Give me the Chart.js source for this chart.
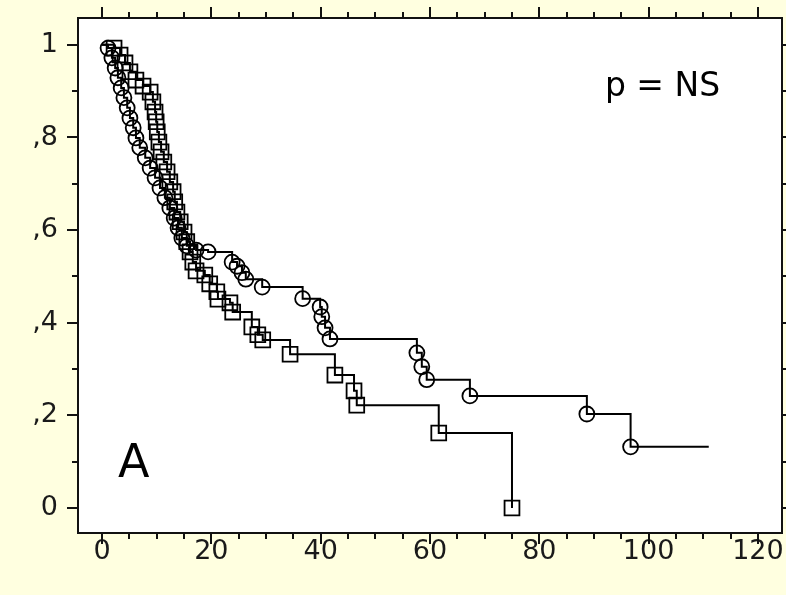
<!DOCTYPE html>
<html>
<head>
<meta charset="utf-8">
<script src="https://cdn.jsdelivr.net/npm/chart.js@4.4.1/dist/chart.umd.min.js"></script>
<style>
  html, body { margin: 0; padding: 0; background: #ffffe0; overflow: hidden; }
  canvas { display: block; }
</style>
</head>
<body>
<canvas id="km" width="786" height="595"></canvas>
<script>
// group drawn with circles
const circleTimes = [0, 1.1, 1.8, 2.4, 2.9, 3.5, 4.0, 4.6, 5.1, 5.7, 6.2, 6.9, 7.9, 8.8, 9.7,
  10.6, 11.5, 12.4, 13.2, 13.9, 14.6, 15.5, 17.2, 19.4, 23.8, 24.7, 25.6, 26.3, 29.3, 36.7,
  39.9, 40.2, 40.8, 41.7, 57.6, 58.5, 59.4, 67.3, 88.7, 96.7, 111];
const circleSurv = [1, 0.993, 0.972, 0.950, 0.929, 0.907, 0.886, 0.864, 0.842, 0.821, 0.799, 0.778, 0.756, 0.734, 0.713,
  0.691, 0.670, 0.648, 0.626, 0.605, 0.583, 0.566, 0.557, 0.553, 0.531, 0.522, 0.508, 0.494, 0.477, 0.452,
  0.434, 0.413, 0.389, 0.365, 0.335, 0.305, 0.277, 0.242, 0.203, 0.132, 0.132];

// group drawn with squares
const squareTimes = [0, 2.2, 3.3, 4.2, 5.1, 6.2, 7.5, 8.8, 9.3, 9.7, 9.9, 10.1, 10.4, 10.8, 11.3,
  11.9, 12.4, 13.0, 13.3, 13.7, 14.3, 15.0, 15.5, 16.1, 16.6, 17.2, 18.8, 19.7, 21.0, 21.2,
  23.4, 23.9, 27.4, 28.5, 29.4, 34.4, 42.6, 46.1, 46.6, 61.6, 75.0];
const squareSurv = [1, 0.993, 0.978, 0.961, 0.942, 0.924, 0.911, 0.898, 0.877, 0.855, 0.834, 0.812, 0.790, 0.769, 0.747,
  0.726, 0.704, 0.683, 0.661, 0.639, 0.618, 0.596, 0.575, 0.553, 0.531, 0.512, 0.503, 0.484, 0.467, 0.451,
  0.443, 0.423, 0.391, 0.374, 0.363, 0.332, 0.287, 0.253, 0.222, 0.162, 0];

const xTicks = [0, 20, 40, 60, 80, 100, 120];
const xMinorTicks = [5, 10, 15, 25, 30, 35, 45, 50, 55, 65, 70, 75, 85, 90, 95, 105, 110, 115];
const yTicks = [0, 0.2, 0.4, 0.6, 0.8, 1];
const yTickLabels = ["0", ",2", ",4", ",6", ",8", "1"];
const yMinorTicks = [0.1, 0.3, 0.5, 0.7, 0.9];

const labelFont = { family: "'DejaVu Sans', sans-serif", size: 27 };

function toPoints(times, surv) {
  return times.map((t, i) => ({ x: t, y: surv[i] }));
}

// white plot area, frame, outside ticks on all four sides, and the two labels
const framePlugin = {
  id: 'frame',
  beforeDraw(chart) {
    const a = chart.chartArea, c = chart.ctx;
    c.save();
    c.fillStyle = '#ffffe0';
    c.fillRect(0, 0, chart.width, chart.height);
    c.fillStyle = '#ffffff';
    c.fillRect(a.left, a.top, a.right - a.left, a.bottom - a.top);
    c.restore();
  },
  afterDraw(chart) {
    const a = chart.chartArea, c = chart.ctx;
    const xs = chart.scales.x, ys = chart.scales.y;
    c.save();
    c.strokeStyle = '#111';
    c.lineWidth = 2;
    c.strokeRect(a.left, a.top, a.right - a.left, a.bottom - a.top);

    c.beginPath();
    const xt = (v, len) => {
      const px = Math.round(xs.getPixelForValue(v));
      c.moveTo(px, a.bottom); c.lineTo(px, a.bottom + len);
      c.moveTo(px, a.top); c.lineTo(px, a.top - len);
    };
    const yt = (v, len) => {
      const py = Math.round(ys.getPixelForValue(v));
      c.moveTo(a.left, py); c.lineTo(a.left - len, py);
      c.moveTo(a.right, py); c.lineTo(a.right + len, py);
    };
    xTicks.forEach(v => xt(v, 11));
    xMinorTicks.forEach(v => xt(v, 6));
    yTicks.forEach(v => yt(v, 11));
    yMinorTicks.forEach(v => yt(v, 6));
    c.stroke();

    c.fillStyle = '#000';
    c.textBaseline = 'alphabetic';
    c.textAlign = 'left';
    c.font = "33px 'DejaVu Sans', sans-serif";
    c.fillText('p = NS', xs.getPixelForValue(92.0), ys.getPixelForValue(0.89));
    c.font = "46px 'DejaVu Sans', sans-serif";
    c.fillText('A', xs.getPixelForValue(2.9), ys.getPixelForValue(0.067));
    c.restore();
  }
};

new Chart(document.getElementById('km'), {
  type: 'scatter',
  data: {
    datasets: [
      {
        label: 'circles',
        data: toPoints(circleTimes, circleSurv),
        showLine: true,
        stepped: 'before',
        borderColor: '#000',
        borderWidth: 2,
        pointStyle: 'circle',
        pointRadius: ctx => (ctx.dataIndex === 0 || ctx.dataIndex === circleTimes.length - 1) ? 0 : 7.5,
        pointBorderColor: '#000',
        pointBackgroundColor: 'rgba(0,0,0,0)',
        pointBorderWidth: 1.8
      },
      {
        label: 'squares',
        data: toPoints(squareTimes, squareSurv),
        showLine: true,
        stepped: 'before',
        borderColor: '#000',
        borderWidth: 2,
        pointStyle: 'rect',
        pointRadius: ctx => ctx.dataIndex === 0 ? 0 : 10.5,
        pointBorderColor: '#000',
        pointBackgroundColor: 'rgba(0,0,0,0)',
        pointBorderWidth: 1.8
      }
    ]
  },
  options: {
    responsive: false,
    animation: false,
    events: [],
    layout: { autoPadding: false, padding: { top: 18, right: 4, left: 0, bottom: 0 } },
    plugins: { legend: { display: false }, tooltip: { enabled: false } },
    scales: {
      x: {
        type: 'linear',
        min: -4.4,
        max: 124.4,
        afterBuildTicks: s => { s.ticks = xTicks.map(v => ({ value: v })); },
        afterFit: s => { s.height = 62; s.paddingLeft = 0; s.paddingRight = 0; },
        border: { display: false },
        grid: { drawOnChartArea: false, tickLength: 3, tickColor: 'rgba(0,0,0,0)' },
        ticks: { font: labelFont, color: '#1a1a1a', padding: 0, maxRotation: 0, autoSkip: false }
      },
      y: {
        type: 'linear',
        min: -0.054,
        max: 1.058,
        afterBuildTicks: s => { s.ticks = yTicks.map(v => ({ value: v })); },
        afterFit: s => { s.width = 78; s.paddingTop = 0; s.paddingBottom = 0; },
        border: { display: false },
        grid: { drawOnChartArea: false, tickLength: 12, tickColor: 'rgba(0,0,0,0)' },
        ticks: {
          font: labelFont, color: '#1a1a1a', padding: 8, autoSkip: false,
          callback: v => yTickLabels[yTicks.indexOf(v)]
        }
      }
    }
  },
  plugins: [framePlugin]
});
</script>
</body>
</html>
